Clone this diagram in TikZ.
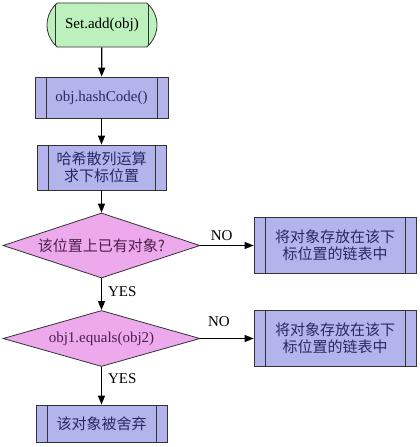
\documentclass[tikz,border=0pt]{standalone}
\usepackage{fontspec}
\setmainfont{Liberation Serif}
\newfontfamily\cjk{Noto Sans CJK SC}
\usetikzlibrary{shapes.geometric,shapes.misc,arrows.meta}
\definecolor{boxfill}{RGB}{180,180,236}
\definecolor{boxtext}{RGB}{40,40,100}
\definecolor{diafill}{RGB}{236,170,236}
\definecolor{diatext}{RGB}{80,30,80}
\definecolor{termfill}{RGB}{188,240,188}
\tikzset{
  proc/.style={draw=black!80, fill=boxfill, text=boxtext, line width=0.8pt,
    minimum height=#1, align=center, font=\fontsize{15}{19}\selectfont,
    path picture={
      \draw[black!80, line width=0.8pt] ([xshift=11pt]path picture bounding box.north west) -- ([xshift=11pt]path picture bounding box.south west);
      \draw[black!80, line width=0.8pt] ([xshift=-11pt]path picture bounding box.north east) -- ([xshift=-11pt]path picture bounding box.south east);
    }},
  term/.style={rounded rectangle, rounded rectangle arc length=100, draw=black!80,
    fill=termfill, line width=0.8pt, minimum width=110pt, minimum height=44pt,
    font=\fontsize{15}{19}\selectfont, inner sep=0pt,
    path picture={
      \draw[black!80, line width=0.8pt] ([xshift=10pt]path picture bounding box.north west) -- ([xshift=10pt]path picture bounding box.south west);
      \draw[black!80, line width=0.8pt] ([xshift=-10pt]path picture bounding box.north east) -- ([xshift=-10pt]path picture bounding box.south east);
    }},
  dec/.style={diamond, aspect=3.03, draw=black!80, fill=diafill, text=diatext,
    line width=0.8pt, inner sep=0pt, font=\fontsize{15}{19}\selectfont},
  arr/.style={-{Triangle[length=9pt,width=7pt]}, line width=1.2pt},
  lbl/.style={font=\fontsize{15}{19}\selectfont, inner sep=0pt}
}
\begin{document}
\begin{tikzpicture}[x=1pt,y=-1pt]
\useasboundingbox (0,0) rectangle (420,447);
\node[term] (start) at (102,25) {Set.add(obj)};
\node[proc=41pt, minimum width=133pt] (hash) at (101.5,97.5) {obj.hashCode()};
\node[proc=45pt, minimum width=129pt] (calc) at (101.5,167.5) {\cjk 哈希散列运算\\[-2pt]\cjk 求下标位置};
\node[dec, minimum width=197pt, minimum height=65pt] (d1) at (101.5,245.5) {\cjk 该位置上已有对象?};
\node[dec, minimum width=197pt, minimum height=56pt] (d2) at (101.5,338.5) {obj1.equals(obj2)};
\node[proc=37pt, minimum width=131pt] (drop) at (101.5,423.5) {\cjk 该对象被舍弃};
\node[proc=56pt, minimum width=162pt] (r1) at (335,245) {\cjk 将对象存放在该下\\[-2pt]\cjk 标位置的链表中};
\node[proc=56pt, minimum width=162pt] (r2) at (335,338) {\cjk 将对象存放在该下\\[-2pt]\cjk 标位置的链表中};
\draw[arr] (start) -- (hash);
\draw[arr] (hash) -- (calc);
\draw[arr] (calc) -- (d1);
\draw[arr] (d1) -- node[lbl, right=6pt, pos=0.42] (y1) {YES} (d2);
\draw[arr] (d2) -- node[lbl, right=6pt, pos=0.3] (y2) {YES} (drop);
\draw[arr] (d1.east) -- node[lbl, above=4pt, pos=0.4] (n1) {NO} (r1.west |- d1.east);
\draw[arr] (d2.east) -- (r2.west |- d2.east);
\node[lbl] (n2) at (219,322) {NO};
\end{tikzpicture}
\end{document}
